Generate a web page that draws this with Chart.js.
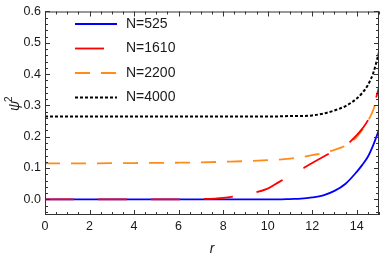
<!DOCTYPE html>
<html>
<head>
<meta charset="utf-8">
<script src="https://cdn.jsdelivr.net/npm/chart.js@4.4.1/dist/chart.umd.min.js"></script>
<style>
  html, body { margin: 0; padding: 0; background: #fff; }
  #wrap { width: 382px; height: 257px; }
</style>
</head>
<body>
<div id="wrap"><canvas id="chart" width="382" height="257"></canvas></div>
<script>
const labels = ['N=525', 'N=1610', 'N=2200', 'N=4000'];
const rValues = [0, 2, 4, 6, 7, 8, 9, 10, 10.5, 11, 11.5, 12, 12.5, 13, 13.5, 14, 14.25, 14.5, 14.75, 15];
const psi525 = [0, 0, 0, 0, 0, 0, 0, 0, 0, 0.001, 0.002, 0.006, 0.013, 0.027, 0.05, 0.088, 0.11, 0.136, 0.175, 0.222];
const psi1610 = [0, 0, 0, 0, 0.001, 0.005, 0.016, 0.034, 0.055, 0.075, 0.095, 0.116, 0.136, 0.155, 0.172, 0.205, 0.226, 0.252, 0.295, 0.358];
const psi2200 = [0.115, 0.115, 0.116, 0.117, 0.118, 0.12, 0.122, 0.125, 0.127, 0.13, 0.134, 0.141, 0.148, 0.158, 0.172, 0.199, 0.222, 0.25, 0.287, 0.35];
const psi4000 = [0.265, 0.265, 0.265, 0.265, 0.265, 0.265, 0.265, 0.265, 0.265, 0.266, 0.266, 0.268, 0.274, 0.284, 0.298, 0.322, 0.34, 0.365, 0.405, 0.47];

const xTicks = [0, 2, 4, 6, 8, 10, 12, 14];
const yTicks = [0, 0.1, 0.2, 0.3, 0.4, 0.5, 0.6];
const xMinorStep = 0.5;
const yMinorStep = 0.02;

const colors = ['#0000ff', '#ff0000', '#ff8c1a', '#000000'];
const dashes = [[], [29, 24], [15, 11], [3, 2]];
const series = [psi525, psi1610, psi2200, psi4000];
const drawOrder = [1, 0, 2, 3]; // red sits on top of blue

const FONT = '"Liberation Sans", Arial, sans-serif';
const FRAME = '#333';
const TEXT = '#1a1a1a';

function toPoints(ys) {
  return rValues.map((r, i) => ({ x: r, y: ys[i] }));
}

const frameAndLegend = {
  id: 'frameAndLegend',
  afterDatasetsDraw(chart) {
    const { ctx, chartArea: a, scales } = chart;
    const xs = scales.x, ys = scales.y;
    ctx.save();
    ctx.strokeStyle = FRAME;
    ctx.lineWidth = 1;
    ctx.setLineDash([]);
    ctx.strokeRect(a.left + 0.5, a.top + 0.5, a.right - a.left - 1, a.bottom - a.top - 1);

    // ticks on all four sides, pointing inward
    ctx.beginPath();
    for (let v = xs.min; v <= xs.max + 1e-9; v += xMinorStep) {
      const px = Math.round(xs.getPixelForValue(v)) + 0.5;
      const len = xTicks.some(t => Math.abs(t - v) < 1e-6) ? 5 : 3;
      ctx.moveTo(px, a.bottom); ctx.lineTo(px, a.bottom - len);
      ctx.moveTo(px, a.top); ctx.lineTo(px, a.top + len);
    }
    const yStart = Math.ceil(ys.min / yMinorStep) * yMinorStep;
    for (let v = yStart; v <= ys.max + 1e-9; v += yMinorStep) {
      const py = Math.round(ys.getPixelForValue(v)) + 0.5;
      const len = yTicks.some(t => Math.abs(t - v) < 1e-6) ? 5 : 3;
      ctx.moveTo(a.left, py); ctx.lineTo(a.left + len, py);
      ctx.moveTo(a.right, py); ctx.lineTo(a.right - len, py);
    }
    ctx.stroke();

    // legend
    ctx.font = '14px ' + FONT;
    ctx.textBaseline = 'middle';
    ctx.fillStyle = TEXT;
    chart.data.datasets.forEach((ds, i) => {
      const y = 24 + i * 24.5;
      ctx.beginPath();
      ctx.strokeStyle = ds.borderColor;
      ctx.lineWidth = ds.borderWidth;
      ctx.setLineDash(ds.borderDash || []);
      ctx.moveTo(75, y); ctx.lineTo(117, y);
      ctx.stroke();
      ctx.fillText(ds.label, 126, y);
    });
    ctx.setLineDash([]);

    // axis titles
    ctx.fillStyle = TEXT;
    ctx.font = 'italic 14px ' + FONT;
    ctx.textAlign = 'center';
    ctx.textBaseline = 'alphabetic';
    ctx.fillText('r', (a.left + a.right) / 2, 253);

    ctx.translate(19, 104);
    ctx.rotate(-Math.PI / 2);
    ctx.textAlign = 'left';
    ctx.fillText('ψ', -7, 0);
    ctx.font = '10px ' + FONT;
    ctx.fillText('2', 2, -7);
    ctx.restore();
  }
};

new Chart(document.getElementById('chart'), {
  type: 'line',
  data: {
    datasets: series.map((ys, i) => ({
      label: labels[i],
      data: toPoints(ys),
      borderColor: colors[i],
      backgroundColor: 'transparent',
      borderWidth: i === 3 ? 2 : 1.8,
      borderDash: dashes[i],
      pointRadius: 0,
      cubicInterpolationMode: 'monotone',
      order: drawOrder[i]
    }))
  },
  options: {
    responsive: false,
    animation: false,
    layout: { padding: { left: 0, right: 3, top: 9, bottom: 0 } },
    plugins: { legend: { display: false }, tooltip: { enabled: false } },
    scales: {
      x: {
        type: 'linear',
        min: 0,
        max: 15,
        grid: { display: false, drawTicks: false },
        border: { display: false },
        afterBuildTicks: scale => { scale.ticks = xTicks.map(v => ({ value: v })); },
        afterFit: scale => { scale.height = 42; },
        ticks: {
          padding: 4,
          color: TEXT,
          font: { family: FONT, size: 12.5 },
          maxRotation: 0,
          callback: v => String(v)
        }
      },
      y: {
        type: 'linear',
        min: -0.05,
        max: 0.6,
        grid: { display: false, drawTicks: false },
        border: { display: false },
        afterBuildTicks: scale => { scale.ticks = yTicks.map(v => ({ value: v })); },
        afterFit: scale => { scale.width = 45; },
        ticks: {
          padding: 4,
          color: TEXT,
          font: { family: FONT, size: 12.5 },
          callback: v => Number(v).toFixed(1)
        }
      }
    }
  },
  plugins: [frameAndLegend]
});
</script>
</body>
</html>
